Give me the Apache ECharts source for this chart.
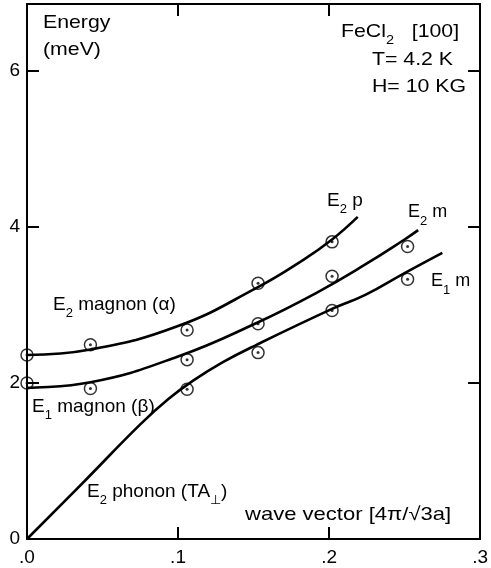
<!DOCTYPE html>
<html>
<head>
<meta charset="utf-8">
<script src="https://cdn.jsdelivr.net/npm/echarts@6/dist/echarts.min.js"></script>
<style>
  html, body { margin: 0; padding: 0; background: #fff; }
  #chart { width: 491px; height: 568px; }
</style>
</head>
<body>
<div id="chart"></div>
<script>
// FeCl2 dispersion along [100], T = 4.2 K, H = 10 kG

// tick labels
const qTickLabels = ['.0', '.1', '.2', '.3'];
const eTickLabels = ['0', '2', '4', '6'];

// measured points (wave vector, energy in meV)
const alphaQ = [0, 0.042, 0.106, 0.153, 0.202];
const alphaE = [2.36, 2.49, 2.68, 3.28, 3.81];
const betaQ = [0, 0.042, 0.106, 0.153, 0.202, 0.252];
const betaE = [2.00, 1.93, 2.30, 2.76, 3.37, 3.75];
const phononQ = [0.106, 0.153, 0.202, 0.252];
const phononE = [1.92, 2.39, 2.93, 3.33];

// drawn dispersion curves
const alphaCurveQ = [0, 0.042, 0.100, 0.152, 0.183, 0.202, 0.219];
const alphaCurveE = [2.36, 2.43, 2.73, 3.22, 3.58, 3.84, 4.13];
const betaCurveQ = [0, 0.042, 0.100, 0.152, 0.192, 0.224, 0.250, 0.259];
const betaCurveE = [1.94, 2.01, 2.34, 2.77, 3.16, 3.52, 3.84, 3.96];
const phononCurveQ = [0, 0.039, 0.075, 0.094, 0.110, 0.130, 0.152, 0.202, 0.224, 0.250, 0.275];
const phononCurveE = [0, 0.76, 1.47, 1.80, 2.03, 2.27, 2.49, 2.95, 3.13, 3.41, 3.67];

const FONT = '"Liberation Sans", Arial, Helvetica, sans-serif';
const zip = (xs, ys) => xs.map((x, i) => [x, ys[i]]);

const chart = echarts.init(document.getElementById('chart'), null, { renderer: 'canvas' });

function curve(qs, es) {
  return {
    type: 'line', data: zip(qs, es), smooth: 0.45, showSymbol: false,
    lineStyle: { color: '#000', width: 2.6 }, silent: true, z: 3
  };
}
function rings(qs, es) {
  return {
    type: 'scatter', data: zip(qs, es), symbol: 'circle', symbolSize: 12,
    itemStyle: { color: 'rgba(255,255,255,0)', borderColor: '#000', borderWidth: 1.5 },
    silent: true, z: 4
  };
}
function dots(qs, es) {
  return {
    type: 'scatter', data: zip(qs, es), symbol: 'circle', symbolSize: 3,
    itemStyle: { color: '#000' }, silent: true, z: 5
  };
}

function richStyles(size) {
  return {
    n: { fontSize: size, lineHeight: 22, verticalAlign: 'top', fontFamily: FONT, fill: '#000' },
    s: { fontSize: 13, lineHeight: 14, verticalAlign: 'top', padding: [12, 0, 0, 0], fontFamily: FONT, fill: '#000' }
  };
}

// text placed by its left edge and baseline; sx widens the lettering
function note(x, baseline, text, size, sx) {
  return {
    type: 'text', x: x, y: baseline - 15, z: 10, silent: true,
    scaleX: sx || 1, scaleY: 1,
    style: { text: text, rich: richStyles(size), verticalAlign: 'top', align: 'left', fontFamily: FONT, fontSize: size, fill: '#000' }
  };
}

const tickStyle = { show: true, inside: true, length: 12, lineStyle: { color: '#000', width: 2 } };
const lineStyle = { show: true, onZero: false, lineStyle: { color: '#000', width: 2 } };

chart.setOption({
  animation: false,
  backgroundColor: '#fff',
  grid: { left: 27, right: 6, top: 4, bottom: 29, containLabel: false },
  xAxis: [
    {
      type: 'value', min: 0, max: 0.3, interval: 0.1, position: 'bottom',
      axisLine: lineStyle, axisTick: tickStyle, splitLine: { show: false },
      axisLabel: {
        margin: 9, fontSize: 19, fontFamily: FONT, color: '#000',
        formatter: v => qTickLabels[Math.round(v / 0.1)] || ''
      }
    },
    {
      type: 'value', min: 0, max: 0.3, interval: 0.1, position: 'top',
      axisLine: lineStyle, axisTick: tickStyle, splitLine: { show: false },
      axisLabel: { show: false }
    }
  ],
  yAxis: [
    {
      type: 'value', min: 0, max: 6.86, interval: 2, position: 'left',
      axisLine: lineStyle, axisTick: tickStyle, splitLine: { show: false },
      axisLabel: {
        margin: 7, fontSize: 19, fontFamily: FONT, color: '#000', showMaxLabel: false,
        formatter: v => (Math.abs(v / 2 - Math.round(v / 2)) < 1e-6 ? (eTickLabels[Math.round(v / 2)] || '') : '')
      }
    },
    {
      type: 'value', min: 0, max: 6.86, interval: 2, position: 'right',
      axisLine: lineStyle, axisTick: tickStyle, splitLine: { show: false },
      axisLabel: { show: false }
    }
  ],
  series: [
    curve(alphaCurveQ, alphaCurveE),
    curve(betaCurveQ, betaCurveE),
    curve(phononCurveQ, phononCurveE),
    rings(alphaQ, alphaE), dots(alphaQ, alphaE),
    rings(betaQ, betaE), dots(betaQ, betaE),
    rings(phononQ, phononE), dots(phononQ, phononE)
  ],
  graphic: [
    note(43, 28, '{n|Energy}', 19, 1.12),
    note(43, 55, '{n|(meV)}', 19, 1.12),
    note(341, 37, '{n|FeCl}{s|2}{n|   [100]}', 19, 1.12),
    note(372, 65, '{n|T= 4.2 K}', 19, 1.12),
    note(372, 92, '{n|H= 10 KG}', 19, 1.12),
    note(53, 310, '{n|E}{s|2}{n| magnon (α)}', 19),
    note(32, 412, '{n|E}{s|1}{n| magnon (β)}', 19),
    note(87, 497, '{n|E}{s|2}{n| phonon (TA}{s|⊥}{n|)}', 19),
    note(245, 520, '{n|wave vector [4π/√3a]}', 19, 1.16),
    note(327, 206, '{n|E}{s|2}{n| p}', 19),
    note(408, 218, '{n|E}{s|2}{n| m}', 18),
    note(431, 287, '{n|E}{s|1}{n| m}', 18)
  ]
});
</script>
</body>
</html>
